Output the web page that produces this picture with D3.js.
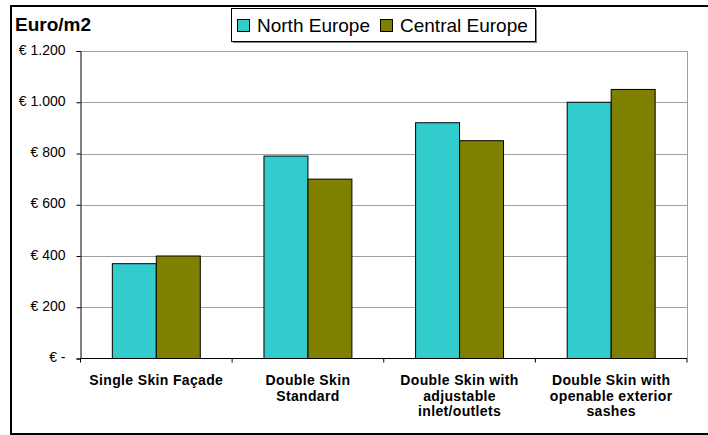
<!DOCTYPE html>
<html>
<head>
<meta charset="utf-8">
<script src="https://cdn.jsdelivr.net/npm/d3@7"></script>
<style>
  html, body { margin: 0; padding: 0; background: #fff; }
  svg { display: block; font-family: "Liberation Sans", Arial, sans-serif; }
</style>
</head>
<body>
<svg id="chart" width="708" height="435"></svg>
<script>
// Facade cost per square metre by type and region
const categories = [
  ["Single Skin Façade"],
  ["Double Skin", "Standard"],
  ["Double Skin with", "adjustable", "inlet/outlets"],
  ["Double Skin with", "openable exterior", "sashes"]
];
const seriesNames = ["North Europe", "Central Europe"];
const northEurope = [370, 790, 920, 1000];
const centralEurope = [400, 700, 850, 1050];
const yTicks = [0, 200, 400, 600, 800, 1000, 1200];
const yTickLabels = ["€ -", "€ 200", "€ 400", "€ 600", "€ 800", "€ 1.000", "€ 1.200"];
const colors = ["#33CCCC", "#808000"];

const svg = d3.select("#chart");

// outer chart frame (right side runs past the page edge)
svg.append("rect")
  .attr("x", 11).attr("y", 6)
  .attr("width", 720).attr("height", 428)
  .attr("fill", "#fff").attr("stroke", "#000").attr("stroke-width", 2);

const plot = { left: 80.5, top: 51, right: 687, bottom: 358.5 };

const x0 = d3.scaleBand()
  .domain(d3.range(categories.length))
  .range([plot.left, plot.right])
  .paddingInner(0.42)
  .paddingOuter(0.21);
const x1 = d3.scaleBand()
  .domain(d3.range(seriesNames.length))
  .range([0, x0.bandwidth()]);
const y = d3.scaleLinear().domain([0, 1200]).range([plot.bottom, plot.top]);

// gridlines
svg.append("g").selectAll("line")
  .data(yTicks.filter(d => d > 0))
  .join("line")
  .attr("x1", plot.left).attr("x2", plot.right)
  .attr("y1", d => Math.round(y(d)) + 0.5).attr("y2", d => Math.round(y(d)) + 0.5)
  .attr("stroke", "#a0a0a0").attr("stroke-width", 1);

// right edge of plot area
svg.append("line")
  .attr("x1", plot.right + 0.5).attr("x2", plot.right + 0.5)
  .attr("y1", plot.top).attr("y2", plot.bottom)
  .attr("stroke", "#a0a0a0");

// bars
const values = [northEurope, centralEurope];
const groups = svg.append("g").selectAll("g")
  .data(categories.map((c, i) => i))
  .join("g")
  .attr("transform", i => `translate(${x0(i)},0)`);
groups.selectAll("rect")
  .data(i => values.map((s, k) => ({ k, v: s[i] })))
  .join("rect")
  .attr("x", d => x1(d.k))
  .attr("y", d => y(d.v))
  .attr("width", x1.bandwidth())
  .attr("height", d => y(0) - y(d.v))
  .attr("fill", d => colors[d.k])
  .attr("stroke", "#000").attr("stroke-width", 1);

// y axis
const yAxis = d3.axisLeft(y)
  .tickValues(yTicks)
  .tickFormat((d, i) => yTickLabels[i])
  .tickSize(4)
  .tickPadding(11);
const gy = svg.append("g")
  .attr("transform", `translate(${plot.left},0)`)
  .call(yAxis);
gy.select(".domain").attr("stroke", "#000");
gy.selectAll(".tick line").attr("stroke", "#000");
gy.selectAll(".tick text")
  .attr("font-size", 14).attr("fill", "#000").attr("dy", "0.22em")
  .attr("font-family", "'Liberation Sans', Arial, sans-serif");

// x axis: ticks at category boundaries
svg.append("line")
  .attr("x1", plot.left).attr("x2", plot.right)
  .attr("y1", plot.bottom).attr("y2", plot.bottom)
  .attr("stroke", "#000");
const step = (plot.right - plot.left) / categories.length;
svg.append("g").selectAll("line")
  .data(d3.range(categories.length + 1))
  .join("line")
  .attr("x1", i => plot.left + i * step).attr("x2", i => plot.left + i * step)
  .attr("y1", plot.bottom).attr("y2", plot.bottom + 4)
  .attr("stroke", "#000");

// category labels
svg.append("g").selectAll("text")
  .data(categories)
  .join("text")
  .attr("x", (d, i) => x0(i) + x0.bandwidth() / 2)
  .attr("y", 385)
  .attr("text-anchor", "middle")
  .attr("font-size", 14).attr("font-weight", "bold")
  .attr("letter-spacing", 0.35)
  .selectAll("tspan")
  .data(d => d)
  .join("tspan")
  .attr("x", function () { return d3.select(this.parentNode).attr("x"); })
  .attr("dy", (d, i) => i === 0 ? 0 : 15.5)
  .text(d => d);

// unit title
svg.append("text")
  .attr("x", 15).attr("y", 31)
  .attr("font-size", 19).attr("font-weight", "bold")
  .text("Euro/m2");

// legend
const legend = svg.append("g");
legend.append("rect")
  .attr("x", 233).attr("y", 10).attr("width", 304).attr("height", 33)
  .attr("fill", "#808080");
legend.append("rect")
  .attr("x", 231.5).attr("y", 8.5).attr("width", 304).attr("height", 33)
  .attr("fill", "#fff").attr("stroke", "#000").attr("stroke-width", 1);
const legendX = [237.5, 380.5];
seriesNames.forEach((name, k) => {
  legend.append("rect")
    .attr("x", legendX[k]).attr("y", 19.5).attr("width", 12).attr("height", 12)
    .attr("fill", colors[k]).attr("stroke", "#000");
  legend.append("text")
    .attr("x", legendX[k] + 19.5).attr("y", 31.5)
    .attr("font-size", 19)
    .text(name);
});
</script>
</body>
</html>
